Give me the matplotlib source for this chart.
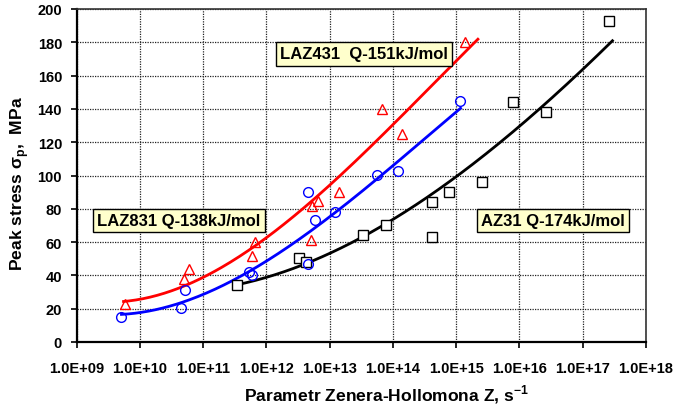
import numpy as np
import matplotlib
matplotlib.use("Agg")
import matplotlib.pyplot as plt

plt.rcParams['font.family'] = ['Liberation Sans', 'DejaVu Sans']
plt.rcParams['font.weight'] = 'bold'

# ---------------- data ----------------
# LAZ431 (red triangles)
laz431_Z = [5.9e9, 5.0e10, 5.9e10, 5.9e11, 6.6e11, 5.1e12, 5.2e12, 6.6e12, 1.4e13, 6.8e13, 1.4e14, 1.4e15]
laz431_s = [22.8, 37.8, 43.8, 51.8, 59.9, 61.0, 81.9, 84.7, 90.0, 139.7, 124.9, 180.0]
# LAZ831 (blue circles)
laz831_Z = [5.1e9, 4.5e10, 5.1e10, 5.2e11, 5.8e11, 4.5e12, 4.5e12, 5.8e12, 1.2e13, 5.5e13, 1.2e14, 1.15e15]
laz831_s = [15.2, 20.2, 31.2, 42.3, 40.2, 46.8, 89.9, 73.0, 78.1, 100.3, 102.9, 145.0]
# AZ31 (black squares)
az31_Z = [3.4e11, 3.3e12, 4.2e12, 3.3e13, 7.8e13, 4.2e14, 4.2e14, 7.8e14, 2.6e15, 7.8e15, 2.6e16, 2.6e17]
az31_s = [34.0, 50.3, 48.3, 64.3, 70.4, 84.0, 63.3, 90.0, 96.1, 144.0, 138.0, 193.0]

# fitted curves as drawn in the reference (sampled along each curve)
laz431_fit_Z = [5.5e9, 1e10, 1e11, 1e12, 1e13, 1e14, 1e15, 2.2e15]
laz431_fit_s = [23.5, 26.5, 40.0, 60.0, 96.0, 131.0, 167.0, 183.0]
laz831_fit_Z = [5.1e9, 1e10, 1e11, 1e12, 1e13, 1e14, 1.17e15]
laz831_fit_s = [16.0, 18.0, 30.0, 47.0, 75.0, 107.0, 140.0]
az31_fit_Z = [3.4e11, 1e12, 4e12, 1e13, 1e14, 1e15, 1e16, 1e17, 2.95e17]
az31_fit_s = [34.0, 39.0, 47.4, 53.0, 74.0, 98.0, 130.0, 165.0, 180.0]

xticks = [1e9, 1e10, 1e11, 1e12, 1e13, 1e14, 1e15, 1e16, 1e17, 1e18]
xtick_labels = ["1.0E+09", "1.0E+10", "1.0E+11", "1.0E+12", "1.0E+13",
                "1.0E+14", "1.0E+15", "1.0E+16", "1.0E+17", "1.0E+18"]
yticks = [0, 20, 40, 60, 80, 100, 120, 140, 160, 180, 200]

labels = ["LAZ431  Q-151kJ/mol", "LAZ831 Q-138kJ/mol", "AZ31 Q-174kJ/mol"]

# ---------------- figure ----------------
W, H = 689, 410
fig = plt.figure(figsize=(W / 100, H / 100), dpi=100)
ax_l, ax_r, ax_t, ax_b = 76.7, 646.0, 10.0, 343.0
ax = fig.add_axes([ax_l / W, 1 - ax_b / H, (ax_r - ax_l) / W, (ax_b - ax_t) / H])

def smooth(zs, ss):
    lx = np.log10(zs)
    c = np.polyfit(lx, ss, 3)
    xx = np.linspace(lx[0], lx[-1], 200)
    return 10 ** xx, np.polyval(c, xx)

for fz, fs, col in [(az31_fit_Z, az31_fit_s, 'black'),
                    (laz831_fit_Z, laz831_fit_s, '#0000FF'),
                    (laz431_fit_Z, laz431_fit_s, '#FF0000')]:
    xx, yy = smooth(fz, fs)
    ax.plot(xx, yy, color=col, lw=2.0, zorder=3)

ax.plot(az31_Z, az31_s, ls='none', marker='s', ms=6.5, mfc='white', mec='black', mew=1.0, zorder=4)
ax.plot(laz831_Z, laz831_s, ls='none', marker='o', ms=7, mfc='none', mec='#0000FF', mew=1.0, zorder=4)
ax.plot(laz431_Z, laz431_s, ls='none', marker='^', ms=7.5, mfc='none', mec='#FF0000', mew=1.0, zorder=4)

ax.set_xscale('log')
ax.set_xlim(1e9, 1e18)
ax.set_ylim(0, 200)
ax.set_xticks(xticks)
ax.set_xticklabels(xtick_labels)
ax.xaxis.set_minor_locator(matplotlib.ticker.NullLocator())
ax.set_yticks(yticks)
ax.tick_params(axis='x', direction='out', length=4, width=1.2, pad=10, labelsize=10.5)
ax.tick_params(axis='y', direction='out', length=4, width=1.2, pad=6.5, labelsize=10.5)
for lab in ax.get_xticklabels() + ax.get_yticklabels():
    lab.set_fontweight('bold')

ax.grid(True, which='major', color='#222222', linestyle=(0, (1, 1)), lw=0.9)
ax.set_axisbelow(True)
for s in ['left', 'bottom']:
    ax.spines[s].set_linewidth(1.6)
    ax.spines[s].set_color('black')
for s in ['top', 'right']:
    ax.spines[s].set_linewidth(1.2)
    ax.spines[s].set_color('#333333')

def axfrac(px, py):
    return (px - ax_l) / (ax_r - ax_l), (ax_b - py) / (ax_b - ax_t)

box = dict(boxstyle='square,pad=0.25', fc='#FFFFCC', ec='black', lw=1.0)
for txt, (px, py) in zip(labels, [(364.3, 55.0), (178.8, 221.7), (553.3, 221.3)]):
    fx, fy = axfrac(px, py)
    ax.text(fx, fy, txt, transform=ax.transAxes, ha='center', va='center',
            fontsize=12, fontweight='bold', bbox=box, zorder=6)

fig.text(386.3 / W, 1 - 395 / H, 'Parametr Zenera-Hollomona Z, s$^{\\mathregular{-1}}$',
         ha='center', va='center', fontsize=12.6, fontweight='bold')
fig.text(20 / W, 1 - 184 / H, 'Peak stress σ$_{\\mathregular{p}}$,  MPa', rotation=90,
         ha='center', va='center', fontsize=12.6, fontweight='bold')

fig.savefig('out.png', dpi=100)
